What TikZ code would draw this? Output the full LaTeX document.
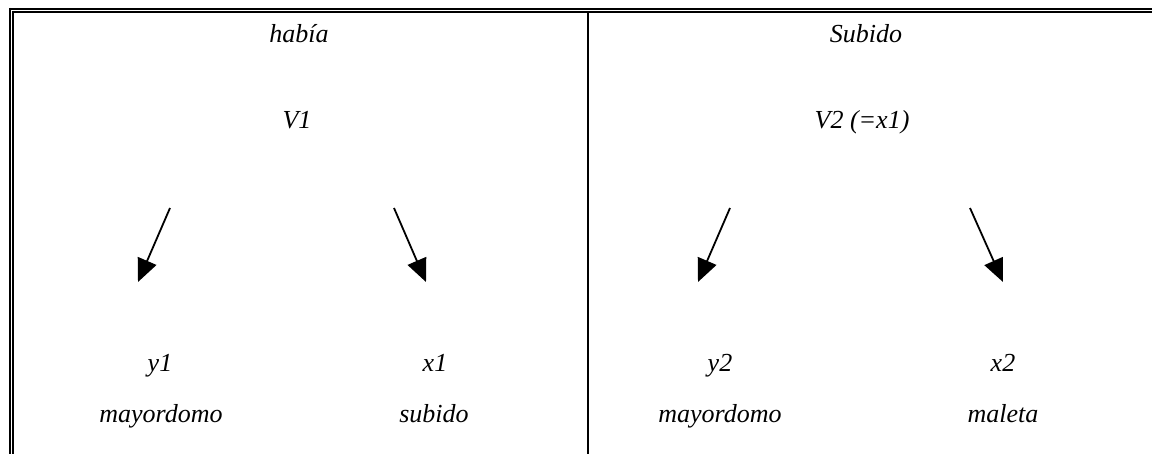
\documentclass[tikz,border=0pt]{standalone}
\usepackage{fontspec}
\setmainfont{Liberation Serif}
\usetikzlibrary{arrows.meta}
\begin{document}
\begin{tikzpicture}[x=1pt,y=-1pt,
  lbl/.style={anchor=base,inner sep=0pt,font=\fontsize{26}{30}\selectfont\itshape},
  rule/.style={line width=2pt,line cap=butt},
  arr/.style={line width=1.8pt,-{Triangle[length=23pt,width=20pt]}}]
\useasboundingbox (0,0) rectangle (1152,454);
\fill[white] (0,0) rectangle (1152,454);
% frame
\draw[rule] (9,9) -- (1152,9);
\draw[rule] (12,12) -- (1152,12);
\draw[rule] (10,8) -- (10,454);
\draw[rule] (13,11) -- (13,454);
\draw[rule] (588,13) -- (588,454);
% left panel
\node[lbl] (habia) at (299,43) {había};
\node[lbl] (v1) at (297,129) {V1};
\node[lbl] (y1) at (160,372) {y1};
\node[lbl] (x1) at (435,372) {x1};
\node[lbl] (m1) at (161,423) {mayordomo};
\node[lbl] (s1) at (434,423) {subido};
% right panel
\node[lbl] (subido) at (866,43) {Subido};
\node[lbl] (v2) at (862,129) {V2 (=x1)};
\node[lbl] (y2) at (720,372) {y2};
\node[lbl] (x2) at (1003,372) {x2};
\node[lbl] (m2) at (720,423) {mayordomo};
\node[lbl] (ml) at (1003,423) {maleta};
% arrows
\coordinate (a1s) at (170,208); \coordinate (a1e) at (138,282);
\coordinate (a2s) at (394,208); \coordinate (a2e) at (426,282);
\coordinate (a3s) at (730,208); \coordinate (a3e) at (698,282);
\coordinate (a4s) at (970,208); \coordinate (a4e) at (1003,282);
\draw[arr] (a1s) -- (a1e);
\draw[arr] (a2s) -- (a2e);
\draw[arr] (a3s) -- (a3e);
\draw[arr] (a4s) -- (a4e);
\end{tikzpicture}
\end{document}
